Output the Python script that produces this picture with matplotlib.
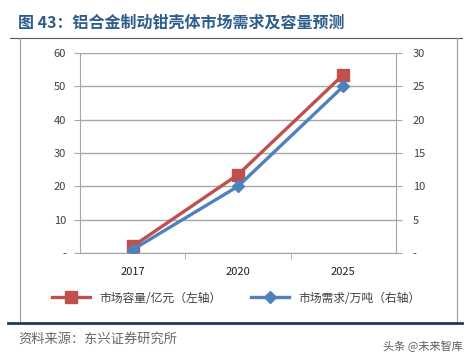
# Import libraries
import matplotlib.pyplot as plt
from matplotlib.lines import Line2D

plt.rcParams['font.family'] = ['Noto Sans CJK SC', 'DejaVu Sans']

# data
years = ['2017', '2020', '2025']
capacity = [2, 23.5, 53.5]      # 市场容量/亿元 (left)
demand = [0.5, 10, 25]          # 市场需求/万吨 (right)
left_ticks = [0, 10, 20, 30, 40, 50, 60]
right_ticks = [0, 5, 10, 15, 20, 25, 30]

red = '#C0504D'
blue = '#4F81BD'
grid = '#A6A6A6'
txt = '#404040'

fig = plt.figure(figsize=(4.73, 3.61), dpi=100)
ax = fig.add_axes([80 / 473, 1 - 253 / 361, 316 / 473, 200 / 361])
ax2 = ax.twinx()

x = list(range(len(years)))
ax.plot(x, capacity, color=red, linewidth=2.4, marker='s', markersize=9, label='市场容量/亿元（左轴）', zorder=3)
ax2.plot(x, demand, color=blue, linewidth=2.4, marker='D', markersize=6.5, label='市场需求/万吨（右轴）', zorder=3)

ax.set_xlim(-0.5, 2.5)
ax.set_ylim(0, 60)
ax2.set_ylim(0, 30)
ax.set_yticks(left_ticks)
ax.set_yticklabels(['-'] + [str(t) for t in left_ticks[1:]])
ax2.set_yticks(right_ticks)
ax2.set_yticklabels(['-'] + [str(t) for t in right_ticks[1:]])
ax.set_xticks(x)
ax.set_xticklabels(years)
ax.set_xticks([0.5, 1.5], minor=True)

ax.grid(True, axis='y', color=grid, linewidth=1)
ax.set_axisbelow(True)
for a in (ax, ax2):
    for s in a.spines.values():
        s.set_visible(False)
ax.spines['left'].set_visible(True)
ax.spines['left'].set_color(grid)
ax.spines['bottom'].set_visible(True)
ax.spines['bottom'].set_color(grid)
ax2.spines['right'].set_visible(True)
ax2.spines['right'].set_color(grid)

ax.tick_params(axis='y', length=4, color=grid, labelsize=8, labelcolor=txt, pad=6)
ax2.tick_params(axis='y', length=4, color=grid, labelsize=8, labelcolor=txt, pad=8)
ax.tick_params(axis='x', which='major', length=0, labelsize=8, labelcolor='#222222', pad=10)
ax.tick_params(axis='x', which='minor', length=4, color=grid)

# legend
h1, l1 = ax.get_legend_handles_labels()
h2, l2 = ax2.get_legend_handles_labels()
fig.legend(h1 + h2, l1 + l2, loc='center', bbox_to_anchor=(0.5, 1 - 298 / 361), ncol=2,
           frameon=False, fontsize=8.5, handlelength=3.2, columnspacing=2.5, labelcolor=txt)

# title and frame
fig.text(18 / 473, 1 - 22 / 361, '图 43：铝合金制动钳壳体市场需求及容量预测', fontsize=11.5,
         fontweight='bold', color='#2E5D8C', va='center', ha='left')
fig.add_artist(Line2D([10 / 473, 462 / 473], [1 - 38 / 361] * 2, color='#555555', linewidth=0.8))
fig.add_artist(Line2D([20 / 473] * 2, [1 - 38 / 361, 1 - 322 / 361], color='#999999', linewidth=0.8))
fig.add_artist(Line2D([457 / 473] * 2, [1 - 38 / 361, 1 - 322 / 361], color='#999999', linewidth=0.8))
fig.add_artist(Line2D([8 / 473, 462 / 473], [1 - 323 / 361] * 2, color='#1F3B57', linewidth=2))

fig.text(18 / 473, 1 - 339 / 361, '资料来源：东兴证券研究所', fontsize=9.5, style='italic',
         color='#666666', va='center', ha='left')
fig.text(463 / 473, 1 - 346 / 361, '头条 @未来智库', fontsize=8, color='#333333',
         va='center', ha='right', alpha=0.8)

fig.savefig('out.png', dpi=100)
